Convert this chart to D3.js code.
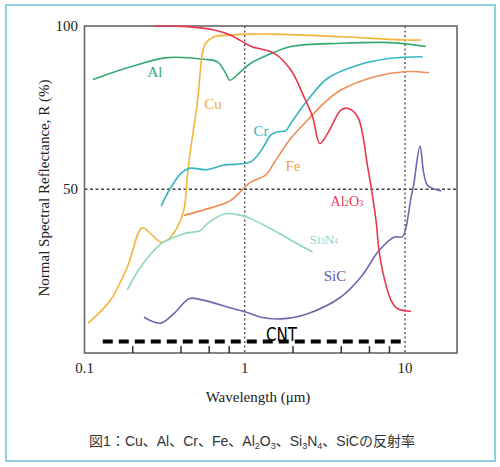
<!DOCTYPE html>
<html>
<head>
<meta charset="utf-8">
<script src="https://cdn.jsdelivr.net/npm/d3@7"></script>
<style>
  body { margin: 0; background: #fff; }
  svg { display: block; }
</style>
</head>
<body>
<div id="chart"></div>
<script>
// wavelength (um) and reflectance (%)
const alX = [0.113, 0.194, 0.329, 0.557, 0.675, 0.761, 0.806, 0.944, 1.09, 1.39, 1.94, 3.98, 8.18, 13.5];
const alY = [83.6, 87.5, 90.3, 89.8, 89.0, 85.5, 83.4, 86.0, 88.6, 91.1, 93.7, 94.7, 94.9, 93.7];

const cuX = [0.1055, 0.145, 0.185, 0.229, 0.259, 0.299, 0.329, 0.38, 0.417, 0.442, 0.471, 0.506, 0.544, 0.57, 0.643, 0.818, 1.09, 1.52, 3.98, 10.4, 12.6];
const cuY = [9.0, 16, 26.2, 38.2, 36.4, 33.8, 34.4, 38.4, 43.6, 55.8, 66.0, 76.3, 91.6, 94.7, 96.7, 97.2, 97.5, 97.5, 96.7, 95.7, 95.7];

const crX = [0.301, 0.329, 0.398, 0.449, 0.584, 0.742, 1.09, 1.31, 1.45, 1.6, 1.8, 1.94, 2.47, 3.29, 5.06, 8.18, 12.9];
const crY = [44.8, 48.7, 54.8, 56.4, 56.0, 57.4, 58.4, 63.0, 66.6, 67.6, 67.9, 70.2, 77.3, 84.0, 88.0, 90.1, 90.6];

const feX = [0.417, 0.643, 0.818, 1.09, 1.35, 1.52, 1.94, 2.47, 3.12, 3.98, 6.4, 9.86, 14.1];
const feY = [42.0, 44.6, 46.6, 52.2, 54.3, 58.0, 65.6, 71.2, 76.4, 80.4, 84.4, 86.0, 85.7];

const alOX = [0.27, 0.44, 0.643, 0.818, 1.09, 1.52, 1.94, 2.34, 2.65, 2.94, 3.29, 3.98, 4.38, 5.06, 5.85, 6.59, 6.88, 7.39, 8.18, 9.0, 10.9];
const alOY = [100, 99.8, 98.8, 97.2, 93.8, 91.7, 86.5, 78.3, 72.2, 64.0, 67.1, 74.2, 74.8, 72.2, 56.8, 40.5, 31.3, 23.1, 16.0, 13.4, 12.6];

const siNX = [0.185, 0.224, 0.299, 0.329, 0.417, 0.531, 0.584, 0.761, 0.944, 1.09, 1.52, 1.94, 2.65];
const siNY = [19.2, 26.2, 33.3, 34.4, 36.4, 37.4, 39.5, 42.5, 42.0, 41.0, 37.4, 34.4, 30.8];

const sicX = [0.235, 0.299, 0.361, 0.449, 0.531, 0.853, 1.06, 1.26, 1.68, 2.47, 3.98, 5.31, 6.9, 8.6, 9.6, 10.1, 10.9, 11.3, 12.4, 13.1, 13.9, 16.8];
const sicY = [10.8, 9.0, 11.9, 16.5, 16.2, 13.4, 12.1, 10.8, 10.3, 11.9, 17.0, 23.1, 31.3, 35.4, 35.4, 37.9, 47.5, 51.1, 63.2, 54.8, 51.1, 49.5];

const cntX = [0.13, 9.4];
const cntY = [3.4, 3.4];

const xTickLabels = [0.1, 1, 10];
const xMinorTicks = [0.2, 0.4, 0.6, 0.8, 2, 4, 6, 8];
const yTickLabels = [50, 100];
const gridX = [1, 10];
const gridY = [50];

const W = 500, H = 467;
const serif = "'Liberation Serif', 'DejaVu Serif', serif";

const svg = d3.select("#chart").append("svg")
  .attr("width", W).attr("height", H);

// light blue outer frame
svg.append("rect")
  .attr("x", 6).attr("y", 5).attr("width", 489).attr("height", 456)
  .attr("fill", "none").attr("stroke", "#8fd0e2").attr("stroke-width", 2);

const x = d3.scaleLog().domain([0.1, 21.1]).range([84.5, 457]);
const y = d3.scaleLinear().domain([0, 100]).range([352.5, 26]);

// dotted grid
svg.selectAll(".gx").data(gridX).enter().append("line")
  .attr("x1", d => x(d)).attr("x2", d => x(d))
  .attr("y1", 26).attr("y2", 353)
  .attr("stroke", "#444").attr("stroke-width", 1.3).attr("stroke-dasharray", "2,2.5");
svg.selectAll(".gy").data(gridY).enter().append("line")
  .attr("x1", 84.5).attr("x2", 457)
  .attr("y1", d => y(d)).attr("y2", d => y(d))
  .attr("stroke", "#444").attr("stroke-width", 1.3).attr("stroke-dasharray", "3,2.5");

// plot frame
svg.append("rect")
  .attr("x", 84.5).attr("y", 26).attr("width", 457 - 84.5).attr("height", 353 - 26)
  .attr("fill", "none").attr("stroke", "#666").attr("stroke-width", 1.6);

// inner minor ticks on the bottom edge
svg.selectAll(".mt").data(xMinorTicks).enter().append("line")
  .attr("x1", d => x(d)).attr("x2", d => x(d))
  .attr("y1", 353).attr("y2", 346)
  .attr("stroke", "#333").attr("stroke-width", 1.5);

// tick labels
svg.selectAll(".xl").data(xTickLabels).enter().append("text")
  .attr("x", d => x(d)).attr("y", 373)
  .attr("text-anchor", "middle").attr("font-family", serif).attr("font-size", 15)
  .attr("fill", "#222").text(d => d);
svg.selectAll(".yl").data(yTickLabels).enter().append("text")
  .attr("x", 78).attr("y", d => y(d) + 5)
  .attr("text-anchor", "end").attr("font-family", serif).attr("font-size", 15)
  .attr("fill", "#222").text(d => d);

// axis titles
svg.append("text")
  .attr("transform", "translate(49,188) rotate(-90)")
  .attr("text-anchor", "middle").attr("font-family", serif).attr("font-size", 15)
  .attr("fill", "#222").text("Normal Spectral Reflectance, R (%)");
svg.append("text")
  .attr("x", 258).attr("y", 402)
  .attr("text-anchor", "middle").attr("font-family", serif).attr("font-size", 15)
  .attr("fill", "#222").text("Wavelength (\u03bcm)");

// curves
const series = [
  { xs: alX, ys: alY, color: "#36a873" },
  { xs: cuX, ys: cuY, color: "#f2b53a" },
  { xs: crX, ys: crY, color: "#35b5c2" },
  { xs: feX, ys: feY, color: "#f08c55" },
  { xs: siNX, ys: siNY, color: "#8ed3c8" },
  { xs: sicX, ys: sicY, color: "#6e69ad" },
  { xs: alOX, ys: alOY, color: "#e6384f" }
];

const line = d3.line()
  .x(d => x(d[0])).y(d => y(d[1]))
  .curve(d3.curveCatmullRom.alpha(0.5));

svg.selectAll(".curve").data(series).enter().append("path")
  .attr("d", s => line(d3.zip(s.xs, s.ys)))
  .attr("fill", "none").attr("stroke", s => s.color).attr("stroke-width", 1.6);

// CNT thick dashed line
svg.append("path")
  .attr("d", d3.line().x(d => x(d[0])).y(d => y(d[1]))(d3.zip(cntX, cntY)))
  .attr("fill", "none").attr("stroke", "#000").attr("stroke-width", 4)
  .attr("stroke-dasharray", "10,6");

svg.append("text")
  .attr("x", 266).attr("y", 341)
  .attr("font-family", "'DejaVu Sans Condensed', 'Liberation Sans Narrow', sans-serif")
  .attr("font-stretch", "condensed")
  .attr("font-size", 20).attr("textLength", 31).attr("lengthAdjust", "spacingAndGlyphs")
  .attr("fill", "#000").text("CNT");

// curve labels
const labels = [
  { t: "Al", px: 155, py: 77, c: "#36a873", s: 15 },
  { t: "Cu", px: 213, py: 109, c: "#f0ae3a", s: 15 },
  { t: "Cr", px: 261, py: 136, c: "#35b5c2", s: 15 },
  { t: "Fe", px: 293, py: 171, c: "#eea445", s: 15 },
  { t: "SiC", px: 335, py: 281, c: "#5f5aa5", s: 15 }
];
svg.selectAll(".lab").data(labels).enter().append("text")
  .attr("x", d => d.px).attr("y", d => d.py)
  .attr("text-anchor", "middle").attr("font-family", serif)
  .attr("font-size", d => d.s).attr("fill", d => d.c).text(d => d.t);

// labels with subscripts
function subLabel(parts, px, py, color, size) {
  const t = svg.append("text")
    .attr("x", px).attr("y", py).attr("text-anchor", "middle")
    .attr("font-family", serif).attr("font-size", size).attr("fill", color);
  parts.forEach(p => {
    const ts = t.append("tspan").text(p[0]);
    if (p[1]) ts.attr("font-size", size * 0.62);
  });
}
subLabel([["Al"], ["2", true], ["O"], ["3", true]], 347, 206, "#e6384f", 14);
subLabel([["Si"], ["3", true], ["N"], ["4", true]], 324, 244, "#8ed3c8", 13);

// caption
const cap = svg.append("text")
  .attr("x", 252).attr("y", 446).attr("text-anchor", "middle")
  .attr("font-family", "'Liberation Sans', 'Noto Sans CJK JP', sans-serif")
  .attr("font-size", 14).attr("fill", "#333");
const capParts = [
  ["図1：Cu、Al、Cr、Fe、Al"], ["2", 1], ["O"], ["3", 1], ["、Si"], ["3", 1], ["N"], ["4", 1], ["、SiCの反射率"]
];
capParts.forEach(p => {
  const ts = cap.append("tspan").text(p[0]);
  if (p[1]) ts.attr("font-size", 9).attr("dy", 3);
  else ts.attr("dy", cap.node().childNodes.length > 1 ? -3 : 0);
});
</script>
</body>
</html>
